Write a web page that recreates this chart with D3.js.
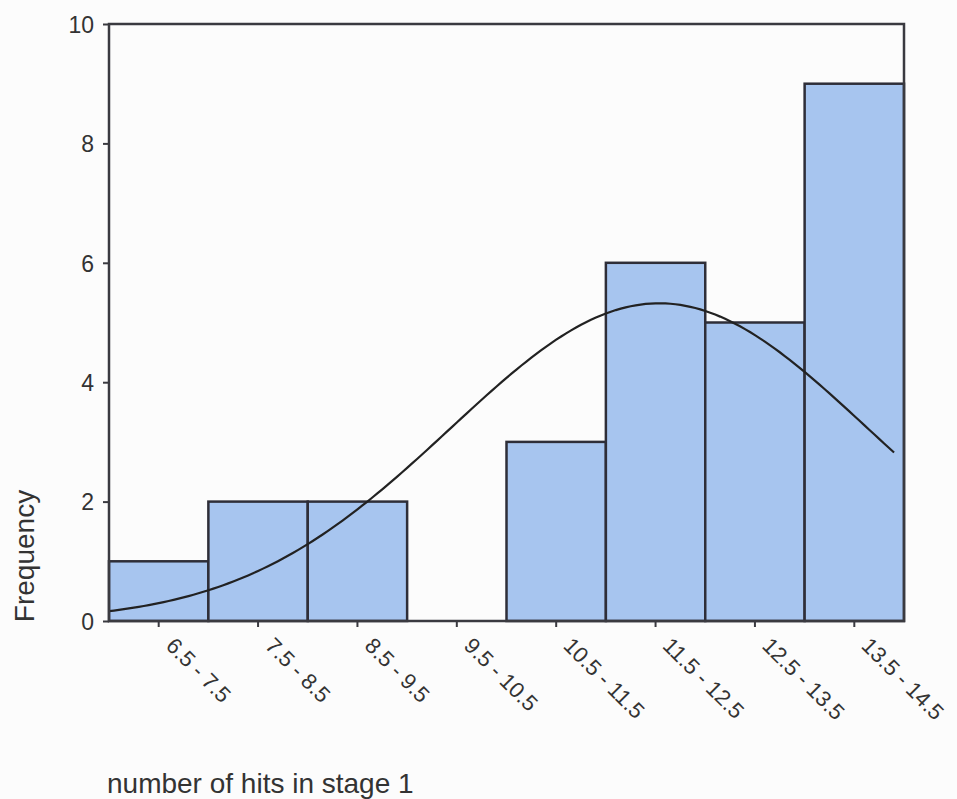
<!DOCTYPE html>
<html>
<head>
<meta charset="utf-8">
<script src="https://cdn.jsdelivr.net/npm/d3@7"></script>
<style>
  body { margin: 0; background: #fcfcfc; }
  text { font-family: "Liberation Sans", Arial, sans-serif; fill: #333; }
</style>
</head>
<body>
<svg id="canvas" width="957" height="799"></svg>
<script>
// bins of "number of hits in stage 1"
let binLabels = ['6.5 - 7.5', '7.5 - 8.5', '8.5 - 9.5', '9.5 - 10.5', '10.5 - 11.5', '11.5 - 12.5', '12.5 - 13.5', '13.5 - 14.5']
let binLow = [6.5, 7.5, 8.5, 9.5, 10.5, 11.5, 12.5, 13.5]
let counts = [1, 2, 2, 0, 3, 6, 5, 9]
let yTicks = [0, 2, 4, 6, 8, 10]

let canvas = d3.select('#canvas')

let plotLeft = 109, plotRight = 904, plotTop = 24, plotBottom = 621

let xScale = d3.scaleLinear().domain([6.5, 14.5]).range([plotLeft, plotRight])
let yScale = d3.scaleLinear().domain([0, 10]).range([plotBottom, plotTop])

// bars
canvas.selectAll('rect.bar')
      .data(counts)
      .enter()
      .append('rect')
      .attr('class', 'bar')
      .attr('x', (d, i) => xScale(binLow[i]))
      .attr('y', (d) => yScale(d))
      .attr('width', (d, i) => xScale(binLow[i] + 1) - xScale(binLow[i]))
      .attr('height', (d) => yScale(0) - yScale(d))
      .attr('fill', '#a7c5ef')
      .attr('stroke', '#2e2e38')
      .attr('stroke-width', 2.5)
      .style('display', (d) => d === 0 ? 'none' : null)

// normal curve fitted to the counts (mean / sd from the histogram)
let mids = binLow.map((b) => b + 0.5)
let n = d3.sum(counts)
let mean = d3.sum(counts.map((c, i) => c * mids[i])) / n
let sd = Math.sqrt(d3.sum(counts.map((c, i) => c * (mids[i] - mean) ** 2)) / (n - 1))
let normal = (x) => n / (sd * Math.sqrt(2 * Math.PI)) * Math.exp(-0.5 * ((x - mean) / sd) ** 2)

let curveXs = d3.range(6.5, 14.42, 0.05)
canvas.append('path')
      .datum(curveXs)
      .attr('d', d3.line().x((d) => xScale(d)).y((d) => yScale(normal(d))))
      .attr('fill', 'none')
      .attr('stroke', '#222')
      .attr('stroke-width', 2.2)

// frame
canvas.append('rect')
      .attr('x', plotLeft)
      .attr('y', plotTop)
      .attr('width', plotRight - plotLeft)
      .attr('height', plotBottom - plotTop)
      .attr('fill', 'none')
      .attr('stroke', '#3a3a40')
      .attr('stroke-width', 2.5)

// y axis
let yAxis = d3.axisLeft(yScale).tickValues(yTicks).tickSize(6).tickPadding(9)
let yG = canvas.append('g')
      .attr('transform', 'translate(' + plotLeft + ',0)')
      .call(yAxis)
yG.select('.domain').remove()
yG.selectAll('line').attr('stroke', '#3a3a40').attr('stroke-width', 2)
yG.selectAll('text')
      .attr('font-size', null)
      .style('font-size', '23px')
      .style('font-family', '"Liberation Sans", Arial, sans-serif')
      .attr('fill', '#333')
      .attr('dy', '0.36em')

// x axis ticks at bin centres
let xG = canvas.append('g')
xG.selectAll('line')
      .data(mids)
      .enter()
      .append('line')
      .attr('x1', (d) => xScale(d))
      .attr('x2', (d) => xScale(d))
      .attr('y1', plotBottom)
      .attr('y2', plotBottom + 6)
      .attr('stroke', '#3a3a40')
      .attr('stroke-width', 2)
xG.selectAll('text')
      .data(binLabels)
      .enter()
      .append('text')
      .attr('transform', (d, i) => 'translate(' + (xScale(mids[i]) + 6) + ',' + (plotBottom + 26) + ') rotate(45)')
      .style('font-size', '22px')
      .text((d) => d)

// axis titles
canvas.append('text')
      .attr('transform', 'translate(34,556) rotate(-90)')
      .attr('text-anchor', 'middle')
      .style('font-size', '28px')
      .text('Frequency')

canvas.append('text')
      .attr('x', 107)
      .attr('y', 793)
      .style('font-size', '28px')
      .text('number of hits in stage 1')
</script>
</body>
</html>
